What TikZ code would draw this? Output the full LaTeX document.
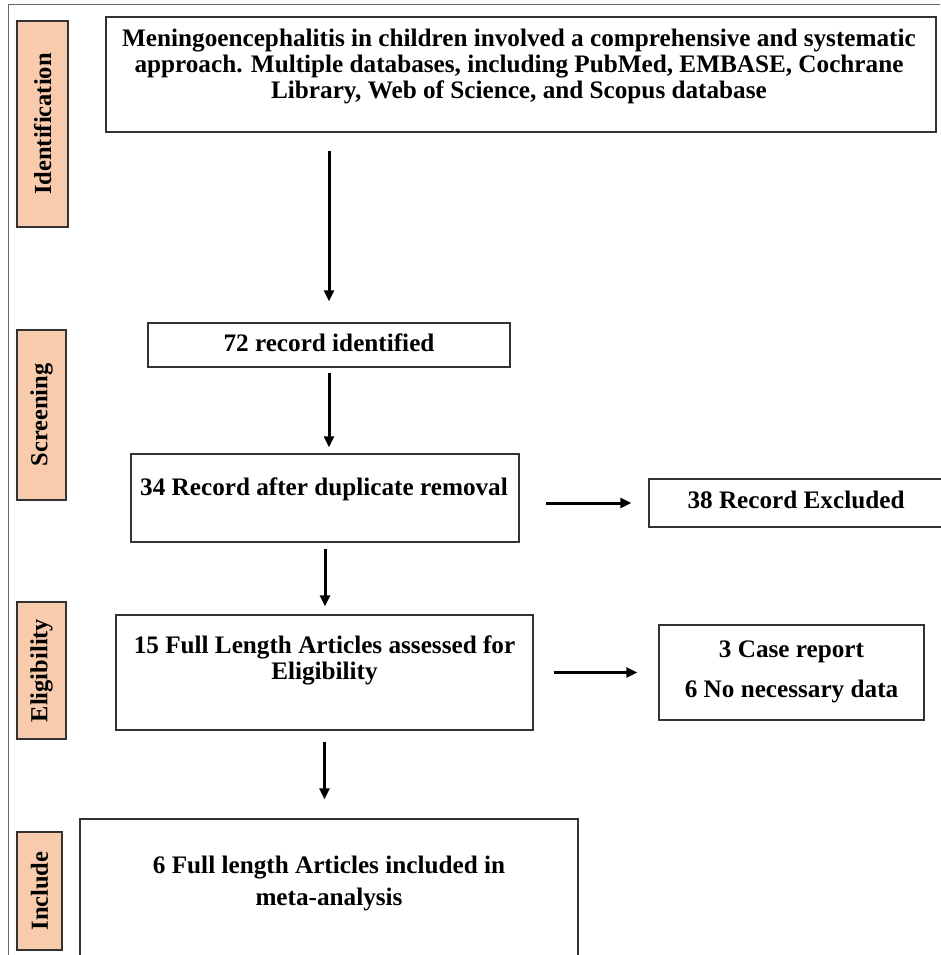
\documentclass[tikz,border=0pt]{standalone}
\usepackage{fontspec}
\setmainfont{Liberation Serif}
\usetikzlibrary{arrows.meta,positioning,calc}
\definecolor{Pc}{HTML}{F8CBAD}
\definecolor{Bc}{HTML}{333333}
\definecolor{Fc}{HTML}{666666}
\tikzset{
  stage/.style={rectangle, draw=Bc, line width=1.4pt, fill=Pc, rotate=90, inner sep=0pt,
    font=\fontsize{24.5}{26}\selectfont\bfseries},
  box/.style={rectangle, draw=Bc, line width=1.4pt, inner sep=0pt},
  txt/.style={align=center, inner sep=0pt, font=\fontsize{25.2}{26}\selectfont\bfseries},
  flow/.style={-{Triangle[length=11pt, width=10pt]}, line width=3pt},
  frame/.style={Fc, line width=1pt},
}
\begin{document}
\begin{tikzpicture}[x=1pt, y=-1pt]
  \useasboundingbox (0,0) rectangle (940,955);
  \draw[frame] (940,5) -- (8,5) -- (8,960);
  % stages
  \node[stage, minimum width=206, minimum height=51] (sId) at (42.5,124) {Identification};
  \node[stage, minimum width=170, minimum height=49] (sSc) at (41.5,415) {Screening};
  \node[stage, minimum width=137, minimum height=49] (sEl) at (41.5,670.5) {Eligibility};
  \node[stage, minimum width=118, minimum height=45] (sIn) at (39.5,891) {Include};
  % boxes
  \node[box, minimum width=830, minimum height=115] (src) at (521,74.5) {};
  \node[box, minimum width=362, minimum height=44] (rec) at (329,345) {};
  \node[box, minimum width=388, minimum height=88] (dup) at (325,498) {};
  \node[box, minimum width=301, minimum height=48] (exc) at (799.5,503) {};
  \node[box, minimum width=417, minimum height=115] (full) at (324.5,672.5) {};
  \node[box, minimum width=265, minimum height=95] (rej) at (791.5,672.5) {};
  \node[box, minimum width=498, minimum height=161] (inc) at (329,899.5) {};
  % texts
  \node[txt] (srcT) at (519,66) {Meningoencephalitis in children involved a comprehensive and systematic\\
    approach. Multiple databases, including PubMed, EMBASE, Cochrane\\
    Library, Web of Science, and Scopus database};
  \node[txt] (recT) at (329,342.5) {72 record identified};
  \node[txt] (dupT) at (324,489) {34 Record after duplicate removal};
  \node[txt] (excT) at (796,500) {38 Record Excluded};
  \node[txt] (fullT) at (324.5,660.5) {15 Full Length Articles assessed for\\ Eligibility};
  \node[txt] (rejT) at (791.5,672) {3 Case report\\[14pt] 6 No necessary data};
  \node[txt] (incT) at (329,883) {6 Full length Articles included in\\[6pt] meta-analysis};
  % arrows
  \draw[flow, shorten <=18pt, shorten >=21pt] (rec.north |- src.south) -- (rec.north);
  \draw[flow, shorten <=5pt, shorten >=6pt] (rec.south) -- (rec.south |- dup.north);
  \draw[flow, shorten <=6pt, shorten >=8pt] (dup.south) -- (dup.south |- full.north);
  \draw[flow, shorten <=11pt, shorten >=19pt] (full.south) -- (full.south |- inc.north);
  \draw[flow, shorten <=26pt, shorten >=17pt] (dup.east |- exc.west) -- (exc.west);
  \draw[flow, shorten <=20pt, shorten >=21pt] (full.east |- rej.west) -- (rej.west);
\end{tikzpicture}
\end{document}
